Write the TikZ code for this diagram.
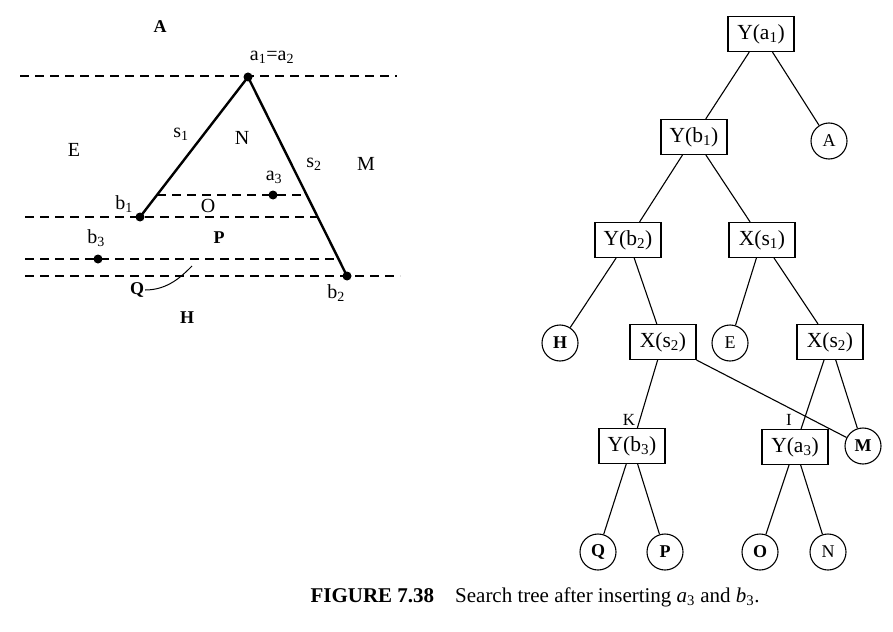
\documentclass[tikz,border=0pt]{standalone}
\usepackage{fontspec}
\setmainfont{Liberation Serif}
\begin{document}
\begin{tikzpicture}[x=1pt,y=-1pt,
    every node/.style={font=\fontsize{21.5}{24}\selectfont},
    lab/.style={inner sep=1pt,font=\fontsize{20}{23}\selectfont},
    box/.style={draw,line width=1.1pt,minimum width=66pt,minimum height=35pt,inner sep=1pt},
    leaf/.style={draw,circle,line width=1.1pt,minimum size=36pt,inner sep=0pt,font=\fontsize{18}{20}\selectfont},
    seg/.style={line width=2.4pt},
    cut/.style={line width=1.2pt,dash pattern=on 9pt off 6pt},
    dot/.style={circle,fill,inner sep=0pt,minimum size=9pt}]
    \useasboundingbox (0,0) rectangle (893,631);
    % the plane with the two segments
    \draw[cut] (20,76) -- (397,76);
    \draw[cut] (157,195) -- (307,195);
    \draw[cut] (25,217) -- (318,217);
    \draw[cut] (25,259) -- (337,259);
    \draw[cut] (25,276) -- (400,276);
    \node[dot] (a1) at (248,77) {};
    \node[dot] (b1) at (140,217) {};
    \node[dot] (b2) at (347,276) {};
    \node[dot] (a3) at (273,195) {};
    \node[dot] (b3) at (98,259) {};
    \draw[seg] (b1.center) -- (a1.center) -- (b2.center);
    \node[lab] at (272,57) {a\textsubscript{1}=a\textsubscript{2}};
    \node[lab] at (181,134) {s\textsubscript{1}};
    \node[lab] at (314,164) {s\textsubscript{2}};
    \node[lab] at (274,177) {a\textsubscript{3}};
    \node[lab] at (124,204) {b\textsubscript{1}};
    \node[lab] at (96,238) {b\textsubscript{3}};
    \node[lab] at (336,293) {b\textsubscript{2}};
    \node[lab,font=\fontsize{18}{20}\bfseries] at (160,27) {A};
    \node[lab] at (74,150) {E};
    \node[lab] at (242,138) {N};
    \node[lab] at (366,164) {M};
    \node[lab] at (208,206) {O};
    \node[lab,font=\fontsize{18}{20}\bfseries] at (219,238) {P};
    \node[lab,font=\fontsize{18}{20}\bfseries] (q) at (137,290) {Q};
    \node[lab,font=\fontsize{18}{20}\bfseries] at (187,318) {H};
    \draw[line width=1pt] (q.east) .. controls (168,290) and (182,276) .. (192,266);
    % the search tree
    \node[box] (ya1) at (761,34) {Y(a\textsubscript{1})};
    \node[leaf] (A) at (829,141) {A};
    \node[box] (yb1) at (694,137) {Y(b\textsubscript{1})};
    \node[box] (yb2) at (628,240) {Y(b\textsubscript{2})};
    \node[box] (xs1) at (762,240) {X(s\textsubscript{1})};
    \node[leaf,font=\fontsize{18}{20}\bfseries] (H) at (560,343) {H};
    \node[box] (xs2l) at (663,342) {X(s\textsubscript{2})};
    \node[leaf] (E) at (730,343) {E};
    \node[box] (xs2r) at (830,342) {X(s\textsubscript{2})};
    \node[box] (yb3) at (632,446) {Y(b\textsubscript{3})};
    \node[box] (ya3) at (795,447) {Y(a\textsubscript{3})};
    \node[leaf,font=\fontsize{18}{20}\bfseries] (M) at (863,446) {M};
    \node[leaf,font=\fontsize{18}{20}\bfseries] (Q) at (598,552) {Q};
    \node[leaf,font=\fontsize{18}{20}\bfseries] (P) at (665,552) {P};
    \node[leaf,font=\fontsize{18}{20}\bfseries] (O) at (760,552) {O};
    \node[leaf] (N) at (828,552) {N};
    \node[lab,font=\fontsize{17}{20}\selectfont] (K) at (629,420) {K};
    \node[lab,font=\fontsize{17}{20}\selectfont] (I) at (789,420) {I};
    \begin{scope}[line width=1.1pt]
        \draw (ya1) -- (yb1);
        \draw (ya1) -- (A);
        \draw (yb1) -- (yb2);
        \draw (yb1) -- (xs1);
        \draw (yb2) -- (H);
        \draw (yb2) -- (xs2l);
        \draw (xs1) -- (E);
        \draw (xs1) -- (xs2r);
        \draw (xs2l) -- (yb3);
        \draw (xs2l.south east) -- (M);
        \draw (xs2r) -- (ya3);
        \draw (xs2r) -- (M);
        \draw (yb3) -- (Q);
        \draw (yb3) -- (P);
        \draw (ya3) -- (O);
        \draw (ya3) -- (N);
    \end{scope}
    \node[font=\fontsize{21}{24}\selectfont] (cap) at (535,597) {\textbf{FIGURE 7.38}\quad Search tree after inserting \textit{a}\textsubscript{3} and \textit{b}\textsubscript{3}.};
\end{tikzpicture}
\end{document}
